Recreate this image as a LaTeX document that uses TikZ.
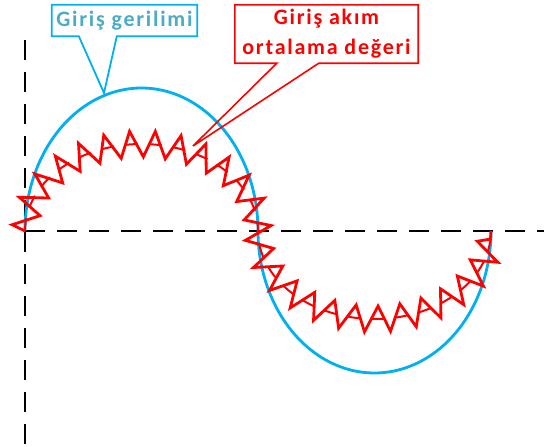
\documentclass[tikz,border=0pt]{standalone}
\usepackage{fontspec}
\newfontfamily\callfont{Carlito}[LetterSpace=8]
\usetikzlibrary{decorations.pathmorphing,calc}
\definecolor{cyanline}{RGB}{0,176,240}
\definecolor{cyantext}{RGB}{75,172,198}
\definecolor{pure red}{RGB}{255,0,0}
\begin{document}
\begin{tikzpicture}[x=1pt,y=-1pt,
  axisline/.style={black,line width=2.7pt,dash pattern=on 20pt off 12pt},
  bluecurve/.style={cyanline,line width=2.8pt},
  redzig/.style={pure red,line width=2.8pt,decorate,decoration={zigzag,segment length=24pt,amplitude=13pt}},
  redbar/.style={pure red,line width=2pt,dash pattern=on 13pt off 11pt},
  calltext/.style={font=\callfont\bfseries\fontsize{22}{30}\selectfont,inner sep=0pt,align=center},
  blueout/.style={cyanline,line width=1.8pt,line join=miter},
  redout/.style={pure red,line width=1.6pt,line join=miter}]
\useasboundingbox (0,0) rectangle (544,447);
% axes
\coordinate (vtop) at (25,40);
\coordinate (vbot) at (25,447);
\coordinate (origin) at (25,231);
\coordinate (hend) at (544,231);
\draw[axisline] (vtop) -- (vbot);
\draw[axisline] (origin) -- (hend);
% input voltage
\draw[bluecurve] plot[domain=180:0,samples=120] ({141.5+116.5*cos(\x)},{231-143*sin(\x)})
  -- plot[domain=180:360,samples=120] ({374.5+116.5*cos(\x)},{231-142*sin(\x)});
% input current with average
\draw[redzig] plot[domain=180:0,samples=120] ({141.5+116.5*cos(\x)},{231-87*sin(\x)})
  -- plot[domain=180:360,samples=120] ({374.5+116.5*cos(\x)},{231-88*sin(\x)});
\draw[redbar] plot[domain=180:0,samples=120] ({141.5+116.5*cos(\x)},{231-87*sin(\x)})
  -- plot[domain=180:360,samples=120] ({374.5+116.5*cos(\x)},{231-88*sin(\x)});
% callout: voltage
\node[calltext,text=cyantext,minimum width=145pt,minimum height=31pt] (vlabel) at (124.5,20.5) {Giriş gerilimi};
\coordinate (vtip) at (104,93);
\draw[blueout] ($(vlabel.south west)+(27,0)$) -- (vlabel.south west) -- (vlabel.north west)
  -- (vlabel.north east) -- (vlabel.south east) -- ($(vlabel.south west)+(65,0)$) -- (vtip) -- cycle;
% callout: current average
\node[calltext,text=pure red,minimum width=183pt,minimum height=58pt] (ilabel) at (326.5,34) {Giriş akım\\ortalama değeri};
\coordinate (itip) at (193,146);
\draw[redout] ($(ilabel.south west)+(42,0)$) -- (ilabel.south west) -- (ilabel.north west)
  -- (ilabel.north east) -- (ilabel.south east) -- ($(ilabel.south west)+(84,0)$) -- (itip) -- cycle;
\end{tikzpicture}
\end{document}
